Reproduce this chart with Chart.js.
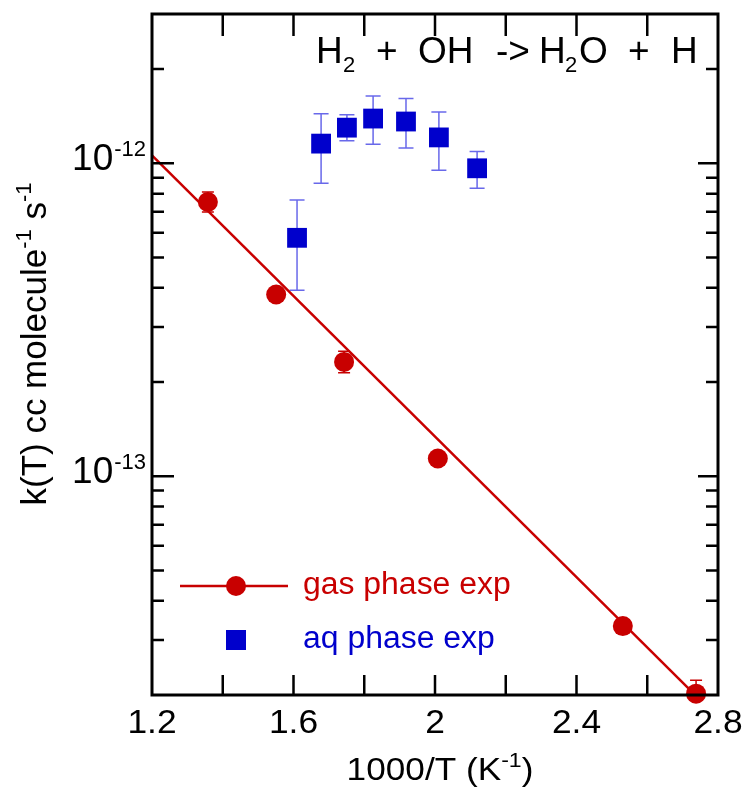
<!DOCTYPE html>
<html>
<head>
<meta charset="utf-8">
<script src="https://cdn.jsdelivr.net/npm/chart.js@4.4.1/dist/chart.umd.min.js"></script>
<style>
html, body { margin: 0; padding: 0; background: #fff; }
#wrap { width: 743px; height: 788px; }
</style>
</head>
<body>
<div id="wrap"><canvas id="kChart" width="743" height="788"></canvas></div>
<script>
// gas phase experiment (red circles)
const gasX = [1.358, 1.551, 1.743, 2.008, 2.531, 2.738];
const gasK = [7.52e-13, 3.81e-13, 2.32e-13, 1.14e-13, 3.32e-14, 2.02e-14];
const gasErrHi = [8.09e-13, null, 2.51e-13, null, null, 2.23e-14];
const gasErrLo = [6.99e-13, null, 2.14e-13, null, null, null];

// aqueous phase experiment (blue squares)
const aqX = [1.610, 1.678, 1.751, 1.825, 1.918, 2.011, 2.119];
const aqK = [5.78e-13, 1.156e-12, 1.30e-12, 1.39e-12, 1.36e-12, 1.21e-12, 9.64e-13];
const aqErrHi = [7.63e-13, 1.44e-12, 1.43e-12, 1.64e-12, 1.61e-12, 1.46e-12, 1.09e-12];
const aqErrLo = [3.93e-13, 8.64e-13, 1.18e-12, 1.15e-12, 1.12e-12, 9.50e-13, 8.33e-13];

// Arrhenius fit line
const fitX = [1.2, 2.745];
const fitK = [1.06e-12, 1.95e-14];

// axes
const xTicks = [1.2, 1.4, 1.6, 1.8, 2.0, 2.2, 2.4, 2.6, 2.8];
const xTickLabels = ['1.2', '', '1.6', '', '2', '', '2.4', '', '2.8'];
const yDecades = [1e-13, 1e-12];
const yDecadeExps = ['-13', '-12'];

const FONT = '"Liberation Sans", Arial, Helvetica, sans-serif';
const RED = '#c80000';
const BLUE = '#0000cc';
const BAR_BLUE = 'rgba(40,40,225,0.7)';

function textW(ctx, s, size, sx) {
    ctx.save();
    ctx.font = size + 'px ' + FONT;
    const w = ctx.measureText(s).width * (sx || 1);
    ctx.restore();
    return w;
}

function putText(ctx, s, x, y, size, align, sx) {
    ctx.save();
    ctx.font = size + 'px ' + FONT;
    ctx.textAlign = align || 'left';
    ctx.textBaseline = 'alphabetic';
    ctx.translate(x, y);
    ctx.scale(sx || 1, 1);
    ctx.fillText(s, 0, 0);
    ctx.restore();
}

// pieces: [text, size, dy], drawn left to right
function runWidth(ctx, pieces, sx) {
    return pieces.reduce((w, p) => w + textW(ctx, p[0], p[1], sx), 0);
}
function putRun(ctx, pieces, x, y, sx) {
    pieces.forEach(p => {
        putText(ctx, p[0], x, y + (p[2] || 0), p[1], 'left', sx);
        x += textW(ctx, p[0], p[1], sx);
    });
}

function drawBars(chart, X, K, hi, lo, color, cap) {
    const ctx = chart.ctx, xs = chart.scales.x, ys = chart.scales.y;
    ctx.save();
    ctx.strokeStyle = color;
    ctx.lineWidth = 1.5;
    ctx.beginPath();
    X.forEach((v, i) => {
        const px = xs.getPixelForValue(v);
        const mid = ys.getPixelForValue(K[i]);
        [hi[i], lo[i]].forEach(e => {
            if (e == null) return;
            const py = ys.getPixelForValue(e);
            ctx.moveTo(px, mid); ctx.lineTo(px, py);
            ctx.moveTo(px - cap, py); ctx.lineTo(px + cap, py);
        });
    });
    ctx.stroke();
    ctx.restore();
}

const errorBars = {
    id: 'errorBars',
    beforeDatasetsDraw(chart) {
        drawBars(chart, aqX, aqK, aqErrHi, aqErrLo, BAR_BLUE, 7.5);
        drawBars(chart, gasX, gasK, gasErrHi, gasErrLo, RED, 6);
    }
};

const frame = {
    id: 'frame',
    afterDraw(chart) {
        const ctx = chart.ctx, a = chart.chartArea;
        const xs = chart.scales.x, ys = chart.scales.y;
        ctx.save();
        ctx.fillStyle = '#000';
        ctx.strokeStyle = '#000';

        // ticks, pointing inward on all four sides
        ctx.lineWidth = 2.5;
        ctx.beginPath();
        xTicks.forEach(v => {
            const px = xs.getPixelForValue(v);
            if (px <= a.left + 1 || px >= a.right - 1) return;
            ctx.moveTo(px, a.bottom); ctx.lineTo(px, a.bottom - 20);
            ctx.moveTo(px, a.top); ctx.lineTo(px, a.top + 22);
        });
        for (let d = -14; d <= -12; d++) {
            for (let m = 1; m <= 9; m++) {
                const v = m * Math.pow(10, d);
                if (v <= ys.min * 1.001 || v >= ys.max * 0.999) continue;
                const py = ys.getPixelForValue(v);
                ctx.moveTo(a.left, py); ctx.lineTo(a.left + (m === 1 ? 22 : 12), py);
                ctx.moveTo(a.right, py); ctx.lineTo(a.right - (m === 1 ? 20 : 12), py);
            }
        }
        ctx.stroke();

        // frame
        ctx.lineWidth = 3;
        ctx.strokeRect(a.left, a.top, a.right - a.left, a.bottom - a.top);

        // x tick labels
        xTicks.forEach((v, i) => {
            if (!xTickLabels[i]) return;
            putText(ctx, xTickLabels[i], xs.getPixelForValue(v), a.bottom + 38, 34, 'center', 1.04);
        });

        // y tick labels 10^n
        yDecades.forEach((v, i) => {
            const py = ys.getPixelForValue(v);
            const right = a.left - 6;
            const sw = textW(ctx, yDecadeExps[i], 22);
            putText(ctx, yDecadeExps[i], right, py - 7, 22, 'right');
            putText(ctx, '10', right - sw - 1, py + 7, 37, 'right');
        });

        // x axis title
        const xt = [['1000/T (K', 32], ['-1', 21, -13], [')', 32]];
        const xw = runWidth(ctx, xt, 1.1);
        putRun(ctx, xt, 440 - xw / 2, a.bottom + 85, 1.1);

        // y axis title, rotated
        const yt = [['k(T) cc molecule', 35], ['-1', 22, -15], [' s', 35], ['-1', 22, -15]];
        ctx.save();
        ctx.translate(46, 344);
        ctx.rotate(-Math.PI / 2);
        putRun(ctx, yt, -runWidth(ctx, yt, 1) / 2, 0, 1);
        ctx.restore();

        // reaction title
        putText(ctx, 'H', 316, 63, 37);
        putText(ctx, '2', 343, 72, 22);
        putText(ctx, '+', 376, 63, 37);
        putText(ctx, 'OH', 418, 63, 37);
        putText(ctx, '->', 496, 63, 37);
        putText(ctx, 'H', 539, 63, 37);
        putText(ctx, '2', 565, 72, 22);
        putText(ctx, 'O', 579, 63, 37);
        putText(ctx, '+', 628, 63, 37);
        putText(ctx, 'H', 671, 63, 37);

        // legend
        ctx.strokeStyle = RED;
        ctx.fillStyle = RED;
        ctx.lineWidth = 2.5;
        ctx.beginPath();
        ctx.moveTo(180, 586); ctx.lineTo(288, 586);
        ctx.stroke();
        ctx.beginPath();
        ctx.arc(236, 586, 10, 0, Math.PI * 2);
        ctx.fill();
        putText(ctx, 'gas phase exp', 303, 594, 31, 'left', 1.03);
        ctx.fillStyle = BLUE;
        ctx.fillRect(226, 630, 20, 20);
        putText(ctx, 'aq phase exp', 303, 648, 31, 'left', 1.03);
        ctx.restore();
    }
};

const ctx = document.getElementById('kChart').getContext('2d');
new Chart(ctx, {
    type: 'scatter',
    data: {
        datasets: [
            {
                label: 'gas phase exp',
                data: gasX.map((x, i) => ({ x: x, y: gasK[i] })),
                pointStyle: 'circle',
                pointRadius: 10,
                backgroundColor: RED,
                borderColor: RED,
                borderWidth: 0,
                clip: false,
                order: 0
            },
            {
                label: 'aq phase exp',
                data: aqX.map((x, i) => ({ x: x, y: aqK[i] })),
                pointStyle: 'rect',
                pointRadius: 14,
                backgroundColor: BLUE,
                borderColor: BLUE,
                borderWidth: 0,
                order: 1
            },
            {
                type: 'line',
                label: 'fit',
                data: fitX.map((x, i) => ({ x: x, y: fitK[i] })),
                borderColor: RED,
                borderWidth: 2.5,
                pointRadius: 0,
                fill: false,
                clip: false,
                order: 2
            }
        ]
    },
    options: {
        responsive: false,
        animation: false,
        layout: { padding: { left: 152, top: 12, right: 25, bottom: 93 } },
        plugins: { legend: { display: false }, tooltip: { enabled: false } },
        scales: {
            x: { type: 'linear', min: 1.2, max: 2.8, display: false },
            y: { type: 'logarithmic', min: 2e-14, max: 3e-12, display: false }
        }
    },
    plugins: [errorBars, frame]
});
</script>
</body>
</html>
